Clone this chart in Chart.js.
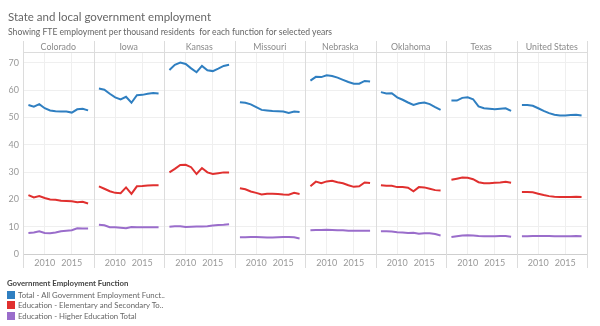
<!DOCTYPE html>
<html>
<head>
<meta charset="utf-8">
<script src="https://cdn.jsdelivr.net/npm/chart.js@4"></script>
<style>
  body { margin: 0; background: #fff; font-family: Lato, "Noto Sans", sans-serif; }
  #wrap { position: relative; width: 600px; height: 326px; overflow: hidden; }
  #myChart { position: absolute; left: 0; top: 0; }
  .title { position: absolute; left: 8px; top: 10px; font-size: 11.5px; color: #666; white-space: nowrap; }
  .subtitle { position: absolute; left: 8px; top: 27px; font-size: 8.6px; color: #666; white-space: nowrap; }
  .legend { position: absolute; left: 7px; top: 278px; font-size: 7.8px; color: #666; }
  .legend .head { font-weight: bold; color: #444; margin-bottom: 2px; }
  .legend .row { height: 10.4px; line-height: 10.4px; white-space: nowrap; }
  .legend .sw { display: inline-block; width: 8px; height: 8px; vertical-align: -1px; margin-right: 3px; }
</style>
</head>
<body>
<div id="wrap">
  <canvas id="myChart" width="600" height="326"></canvas>
  <div class="title">State and local government employment</div>
  <div class="subtitle">Showing FTE employment per thousand residents&nbsp; for each function for selected years</div>
  <div class="legend" id="legend"></div>
</div>
<script>
var states = ['Colorado', 'Iowa', 'Kansas', 'Missouri', 'Nebraska', 'Oklahoma', 'Texas', 'United States'];
var years = [2007, 2008, 2009, 2010, 2011, 2012, 2013, 2014, 2015, 2016, 2017, 2018];
var tickYears = [2010, 2015];
var yTicks = [0, 10, 20, 30, 40, 50, 60, 70];

// FTE per 1,000 residents, one row per state (same order as states)
var totalAll = [
    [54.6, 54.0, 54.9, 53.4, 52.6, 52.3, 52.2, 52.2, 51.8, 53.0, 53.2, 52.6],
    [60.6, 60.2, 58.7, 57.4, 56.6, 57.6, 55.4, 58.2, 58.3, 58.7, 59.0, 58.8],
    [67.4, 69.3, 70.1, 69.6, 68.0, 66.6, 68.9, 67.3, 67.0, 67.9, 68.9, 69.3],
    [55.6, 55.4, 54.8, 53.8, 52.8, 52.6, 52.4, 52.3, 52.2, 51.7, 52.2, 52.0],
    [63.5, 64.9, 64.8, 65.5, 65.2, 64.6, 63.8, 63.0, 62.4, 62.4, 63.4, 63.2],
    [59.3, 58.8, 58.9, 57.4, 56.5, 55.5, 54.6, 55.2, 55.5, 54.9, 53.8, 52.8],
    [56.2, 56.2, 57.2, 57.4, 56.7, 54.1, 53.4, 53.2, 53.0, 53.2, 53.4, 52.4],
    [54.6, 54.6, 54.3, 53.4, 52.4, 51.6, 51.0, 50.7, 50.7, 50.9, 51.0, 50.7]
];
var eduElemSec = [
    [21.6, 20.7, 21.2, 20.5, 20.0, 19.9, 19.5, 19.4, 19.3, 19.0, 19.1, 18.5],
    [24.8, 23.9, 23.0, 22.4, 22.3, 24.4, 22.0, 24.8, 24.9, 25.1, 25.2, 25.2],
    [29.9, 31.2, 32.6, 32.7, 31.8, 29.3, 31.5, 29.9, 29.3, 29.6, 29.9, 29.9],
    [24.1, 23.7, 22.9, 22.4, 21.8, 22.1, 22.1, 22.0, 21.8, 21.7, 22.4, 22.0],
    [24.8, 26.5, 25.9, 26.6, 26.8, 26.3, 25.9, 25.2, 24.6, 24.8, 26.2, 26.0],
    [25.2, 25.0, 25.0, 24.5, 24.5, 24.3, 23.0, 24.5, 24.4, 23.9, 23.4, 23.3],
    [27.2, 27.6, 28.0, 27.9, 27.4, 26.3, 25.9, 25.9, 26.1, 26.2, 26.5, 26.1],
    [22.7, 22.7, 22.6, 22.1, 21.6, 21.2, 21.0, 20.9, 20.9, 20.9, 21.0, 20.9]
];
var eduHigher = [
    [7.7, 7.9, 8.3, 7.7, 7.6, 7.9, 8.3, 8.5, 8.7, 9.4, 9.3, 9.3],
    [10.7, 10.5, 9.8, 9.8, 9.6, 9.4, 9.9, 9.8, 9.8, 9.8, 9.8, 9.8],
    [10.0, 10.2, 10.2, 9.9, 10.0, 10.1, 10.1, 10.2, 10.4, 10.6, 10.7, 10.9],
    [6.1, 6.1, 6.2, 6.2, 6.1, 6.0, 6.0, 6.1, 6.2, 6.2, 6.1, 5.7],
    [8.7, 8.8, 8.8, 8.9, 8.8, 8.7, 8.7, 8.5, 8.5, 8.5, 8.5, 8.5],
    [8.3, 8.3, 8.2, 8.0, 7.9, 7.7, 7.8, 7.4, 7.6, 7.6, 7.3, 6.8],
    [6.2, 6.5, 6.8, 6.9, 6.8, 6.6, 6.5, 6.5, 6.5, 6.6, 6.6, 6.3],
    [6.5, 6.5, 6.6, 6.6, 6.6, 6.6, 6.5, 6.5, 6.5, 6.5, 6.6, 6.5]
];

var functions = [
    { label: 'Total - All Government Employment Funct..', color: '#2f7fc1', rows: totalAll },
    { label: 'Education - Elementary and Secondary To..', color: '#e0302f', rows: eduElemSec },
    { label: 'Education - Higher Education Total', color: '#9a6dcb', rows: eduHigher }
];

// each state panel spans 13 units on the x scale: 2006 .. 2019
var PANEL = 13;
var FIRST = 2006;
function xPos(panel, year) { return panel * PANEL + (year - FIRST); }

var datasets = [];
functions.forEach(f => {
    states.forEach((s, i) => {
        datasets.push({
            label: f.label,
            data: years.map((yr, j) => ({ x: xPos(i, yr), y: f.rows[i][j] })),
            borderColor: f.color,
            backgroundColor: f.color,
            borderWidth: 2,
            pointRadius: 0,
            tension: 0
        });
    });
});

// panel headers and separators
var panels = {
    id: 'panels',
    afterDraw(chart) {
        var c = chart.ctx;
        var xs = chart.scales.x;
        var area = chart.chartArea;
        c.save();
        c.strokeStyle = '#dcdcdc';
        c.lineWidth = 1;
        c.beginPath();
        c.moveTo(area.left, 52.5);
        c.lineTo(area.right, 52.5);
        for (var i = 0; i <= states.length; i++) {
            var px = Math.round(xs.getPixelForValue(i * PANEL)) + 0.5;
            c.moveTo(px, 41);
            c.lineTo(px, 268);
        }
        c.stroke();
        c.fillStyle = '#8a8a8a';
        c.font = '8.8px Lato, "Noto Sans", sans-serif';
        c.textAlign = 'center';
        c.textBaseline = 'middle';
        states.forEach((s, i) => {
            var cx = xs.getPixelForValue(i * PANEL + PANEL / 2);
            c.fillText(s, cx, 47);
        });
        c.restore();
    }
};

var ctx = document.getElementById('myChart').getContext('2d');
var myChart = new Chart(ctx, {
    type: 'line',
    data: { datasets: datasets },
    options: {
        responsive: false,
        animation: false,
        layout: { padding: { top: 52, right: 13, bottom: 58, left: 0 } },
        plugins: { legend: { display: false }, tooltip: { enabled: false } },
        scales: {
            x: {
                type: 'linear',
                min: 0,
                max: PANEL * states.length,
                afterFit: axis => { axis.height = 14; },
                afterBuildTicks: axis => {
                    var t = [];
                    states.forEach((s, i) => {
                        tickYears.forEach(yr => t.push({ value: xPos(i, yr) }));
                    });
                    axis.ticks = t;
                },
                ticks: {
                    autoSkip: false,
                    maxRotation: 0,
                    padding: 4,
                    color: '#999',
                    font: { family: 'Lato, "Noto Sans", sans-serif', size: 9 },
                    callback: v => String(FIRST + Math.round(v) % PANEL)
                },
                grid: { color: '#efefef', drawTicks: false },
                border: { color: '#cfcfcf' }
            },
            y: {
                min: 0,
                max: 74,
                afterFit: axis => { axis.width = 23; },
                afterBuildTicks: axis => {
                    axis.ticks = yTicks.map(v => ({ value: v }));
                },
                ticks: {
                    padding: 4,
                    color: '#999',
                    font: { family: 'Lato, "Noto Sans", sans-serif', size: 9 }
                },
                grid: { color: '#efefef', drawTicks: false },
                border: { display: false }
            }
        }
    },
    plugins: [panels]
});

var legend = document.getElementById('legend');
var html = '<div class="head">Government Employment Function</div>';
functions.forEach(f => {
    html += '<div class="row"><span class="sw" style="background:' + f.color + '"></span>' + f.label + '</div>';
});
legend.innerHTML = html;
</script>
</body>
</html>
